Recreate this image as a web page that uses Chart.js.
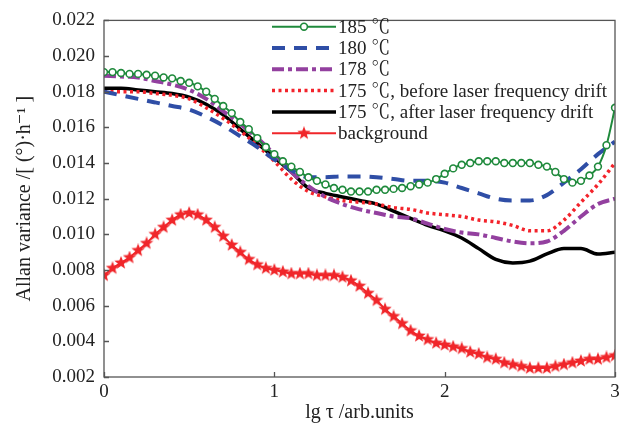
<!DOCTYPE html>
<html>
<head>
<meta charset="utf-8">
<script src="https://cdn.jsdelivr.net/npm/chart.js@4.4.0/dist/chart.umd.min.js"></script>
<style>
  html, body { margin: 0; padding: 0; background: #fff; }
</style>
</head>
<body>
<canvas id="chart" width="627" height="428"></canvas>
<script>
// lg tau sample positions
const tau = [0, 0.1, 0.2, 0.3, 0.4, 0.5, 0.6, 0.7, 0.8, 0.9, 1.0, 1.1, 1.2, 1.3, 1.4, 1.5,
             1.6, 1.7, 1.8, 1.9, 2.0, 2.1, 2.2, 2.3, 2.4, 2.5, 2.6, 2.7, 2.8, 2.9, 3.0];
const tauFine = [0, 0.05, 0.1, 0.15, 0.2, 0.25, 0.3, 0.35, 0.4, 0.45, 0.5, 0.55, 0.6, 0.65, 0.7, 0.75,
                 0.8, 0.85, 0.9, 0.95, 1.0, 1.05, 1.1, 1.15, 1.2, 1.25, 1.3, 1.35, 1.4, 1.45, 1.5,
                 1.55, 1.6, 1.65, 1.7, 1.75, 1.8, 1.85, 1.9, 1.95, 2.0, 2.05, 2.1, 2.15, 2.2, 2.25,
                 2.3, 2.35, 2.4, 2.45, 2.5, 2.55, 2.6, 2.65, 2.7, 2.75, 2.8, 2.85, 2.9, 2.95, 3.0];

// 185 C (on tauFine)
const t185 = [0.0191, 0.0191, 0.01905, 0.0190, 0.0190, 0.01895, 0.0189, 0.0188, 0.01875, 0.0186, 0.0185,
              0.0183, 0.0180, 0.0176, 0.0172, 0.0168, 0.0163, 0.0159, 0.0154, 0.0149, 0.0145,
              0.0141, 0.0138, 0.0135, 0.0132, 0.0130, 0.0128, 0.0126, 0.0125, 0.0124, 0.0124,
              0.0124, 0.0125, 0.0125, 0.01255, 0.0126, 0.0127, 0.0128, 0.0129, 0.0131, 0.0134,
              0.0137, 0.0139, 0.0140, 0.0141, 0.0141, 0.0141, 0.0140, 0.0140, 0.0140, 0.0140,
              0.0139, 0.0138, 0.0135, 0.0131, 0.0129, 0.0130, 0.0133, 0.0138, 0.0150, 0.0171];
// 180 C
const t180 = [0.0180, 0.0178, 0.0176, 0.0174, 0.0172, 0.0170, 0.0166, 0.0161, 0.0155, 0.0149, 0.0142,
              0.0136, 0.0132, 0.0132, 0.01325, 0.01325, 0.0132, 0.0131, 0.0130, 0.0130, 0.0129,
              0.0126, 0.0123, 0.0120, 0.0119, 0.0119, 0.0122, 0.0129, 0.01365, 0.0145, 0.0152];
// 178 C
const t178 = [0.0189, 0.01885, 0.0188, 0.0186, 0.0184, 0.0181, 0.0176, 0.0169, 0.0162, 0.0154, 0.0145,
              0.0135, 0.0127, 0.0121, 0.0117, 0.0114, 0.0112, 0.0110, 0.0109, 0.0106, 0.0103,
              0.0101, 0.0100, 0.0098, 0.0096, 0.0095, 0.0096, 0.0102, 0.0110, 0.0117, 0.0120];
// 175 C, before drift
const t175b = [0.0180, 0.0180, 0.0180, 0.0179, 0.0178, 0.0176, 0.0171, 0.0165, 0.0158, 0.0150, 0.0141,
               0.0131, 0.0124, 0.0121, 0.0119, 0.0118, 0.0117, 0.0115, 0.0114, 0.0112, 0.0111,
               0.0110, 0.0108, 0.0107, 0.0105, 0.0102, 0.0102, 0.0108, 0.0118, 0.0128, 0.0140];
// 175 C, after drift
const t175a = [0.0182, 0.0182, 0.0181, 0.0180, 0.0179, 0.0177, 0.0173, 0.0167, 0.0159, 0.0151, 0.0143,
               0.0135, 0.0126, 0.0123, 0.0121, 0.0119, 0.0117, 0.0113, 0.0109, 0.0105, 0.0102,
               0.0098, 0.0092, 0.0086, 0.0084, 0.0085, 0.0089, 0.0092, 0.0092, 0.0089, 0.0090];
// background (on tauFine)
const bg = [0.0077, 0.0081, 0.0084, 0.0087, 0.0091, 0.0095, 0.0100, 0.0104, 0.0108, 0.0111, 0.0112,
            0.0111, 0.0108, 0.0104, 0.0099, 0.0094, 0.0090, 0.0086, 0.0083, 0.0081, 0.0080,
            0.0079, 0.0078, 0.0078, 0.0078, 0.0077, 0.0077, 0.0077, 0.0076, 0.0074, 0.0071,
            0.0067, 0.0063, 0.0058, 0.0054, 0.0050, 0.0046, 0.0043, 0.0041, 0.0039, 0.0038,
            0.0037, 0.0036, 0.0034, 0.0033, 0.0031, 0.0030, 0.0028, 0.0027, 0.0026, 0.0025,
            0.0025, 0.0025, 0.0026, 0.0027, 0.0028, 0.0029, 0.0030, 0.0030, 0.0031, 0.0032];

const labels = ['185 \u2103', '180 \u2103', '178 \u2103',
                '175 \u2103, before laser frequency drift',
                '175 \u2103, after laser frequency drift', 'background'];
const xTicks = [0, 1, 2, 3];
const yTicks = [0.002, 0.004, 0.006, 0.008, 0.010, 0.012, 0.014, 0.016, 0.018, 0.020, 0.022];

const FONT = "'Liberation Serif', 'Times New Roman', 'Noto Serif CJK SC', 'DejaVu Serif', serif";

function pts(xs, ys) {
    return xs.map((x, i) => ({ x: x, y: ys[i] }));
}

// filled five-point star used as marker
function makeStar(size, color) {
    const c = document.createElement('canvas');
    c.width = size; c.height = size;
    const g = c.getContext('2d');
    const cx = size / 2, cy = size / 2, ro = size / 2, ri = ro * 0.42;
    g.beginPath();
    for (let i = 0; i < 10; i++) {
        const r = i % 2 ? ri : ro;
        const a = -Math.PI / 2 + i * Math.PI / 5;
        g.lineTo(cx + r * Math.cos(a), cy + r * Math.sin(a));
    }
    g.closePath();
    g.fillStyle = color;
    g.fill();
    return c;
}
const star = makeStar(14, '#f0262a');

const datasets = [
    { label: labels[0], data: pts(tauFine, t185), borderColor: '#1f8a3c', borderWidth: 2,
      pointRadius: 3.4, pointBorderWidth: 1.6, pointBackgroundColor: '#fff', pointBorderColor: '#1f8a3c' },
    { label: labels[1], data: pts(tau, t180), borderColor: '#2f4ea6', borderWidth: 4,
      borderDash: [13, 9], pointRadius: 0 },
    { label: labels[2], data: pts(tau, t178), borderColor: '#93409f', borderWidth: 4,
      borderDash: [12, 4, 4, 4], pointRadius: 0 },
    { label: labels[3], data: pts(tau, t175b), borderColor: '#f3232b', borderWidth: 3.5,
      borderDash: [3, 3.5], pointRadius: 0 },
    { label: labels[4], data: pts(tau, t175a), borderColor: '#000', borderWidth: 3.5, pointRadius: 0 },
    { label: labels[5], data: pts(tauFine, bg), borderColor: '#f0262a', borderWidth: 2,
      pointStyle: star, pointRadius: 7 }
];

const framePlugin = {
    id: 'framePlugin',
    afterDatasetsDraw(chart) {
        const { ctx, chartArea: a, scales } = chart;
        ctx.save();
        ctx.strokeStyle = '#555';
        ctx.lineWidth = 1.3;
        ctx.strokeRect(a.left, a.top, a.right - a.left, a.bottom - a.top);
        ctx.beginPath();
        yTicks.forEach(v => {
            const y = Math.round(scales.y.getPixelForValue(v)) + 0.5;
            ctx.moveTo(a.left, y); ctx.lineTo(a.left + 5, y);
        });
        xTicks.forEach(v => {
            const x = Math.round(scales.x.getPixelForValue(v)) + 0.5;
            ctx.moveTo(x, a.bottom); ctx.lineTo(x, a.bottom - 5);
        });
        ctx.stroke();
        ctx.restore();
    },
    afterDraw(chart) {
        const ctx = chart.ctx;
        const x0 = 272, x1 = 336, top = 26.7, step = 21.3;
        ctx.save();
        chart.data.datasets.forEach((ds, i) => {
            const y = top + i * step;
            ctx.beginPath();
            ctx.setLineDash(ds.borderDash || []);
            ctx.lineWidth = ds.borderWidth;
            ctx.strokeStyle = ds.borderColor;
            ctx.moveTo(x0, y); ctx.lineTo(x1, y);
            ctx.stroke();
            ctx.setLineDash([]);
            const mx = (x0 + x1) / 2;
            if (ds.pointStyle === star) {
                ctx.drawImage(star, mx - 7, y - 7, 14, 14);
            } else if (ds.pointRadius) {
                ctx.beginPath();
                ctx.arc(mx, y, ds.pointRadius, 0, Math.PI * 2);
                ctx.fillStyle = '#fff';
                ctx.fill();
                ctx.lineWidth = ds.pointBorderWidth;
                ctx.strokeStyle = ds.pointBorderColor;
                ctx.stroke();
            }
            ctx.fillStyle = '#222';
            ctx.font = '19px ' + FONT;
            ctx.textAlign = 'left';
            ctx.textBaseline = 'middle';
            ctx.fillText(ds.label, x1 + 2, y + 1);
        });
        ctx.restore();
    }
};

new Chart(document.getElementById('chart'), {
    type: 'line',
    data: { datasets: datasets },
    options: {
        responsive: false,
        animation: false,
        devicePixelRatio: 1,
        layout: { padding: { top: 16, right: 12, left: 0, bottom: 0 } },
        plugins: { legend: { display: false }, tooltip: { enabled: false } },
        elements: { line: { cubicInterpolationMode: 'monotone' } },
        scales: {
            x: {
                type: 'linear', min: 0, max: 3,
                afterFit: s => { s.height = 51; },
                afterBuildTicks: s => { s.ticks = xTicks.map(v => ({ value: v })); },
                grid: { display: false, drawTicks: false },
                border: { display: false },
                ticks: { color: '#222', padding: 4, font: { family: FONT, size: 19 } },
                title: { display: true, text: 'lg \u03c4 /arb.units', color: '#222',
                         padding: { top: 0, bottom: 3 }, font: { family: FONT, size: 20 } }
            },
            y: {
                type: 'linear', min: 0.002, max: 0.022,
                afterFit: s => { s.width = 104; },
                afterBuildTicks: s => { s.ticks = yTicks.map(v => ({ value: v })); },
                grid: { display: false, drawTicks: false },
                border: { display: false },
                ticks: { color: '#222', padding: 9, font: { family: FONT, size: 19 },
                         callback: v => v.toFixed(3) },
                title: { display: true, text: 'Allan variance /[ (\u00b0)\u00b7h\u207b\u00b9 ]', color: '#222',
                         padding: { top: 13, bottom: 0 }, font: { family: FONT, size: 20 } }
            }
        }
    },
    plugins: [framePlugin]
});
</script>
</body>
</html>
